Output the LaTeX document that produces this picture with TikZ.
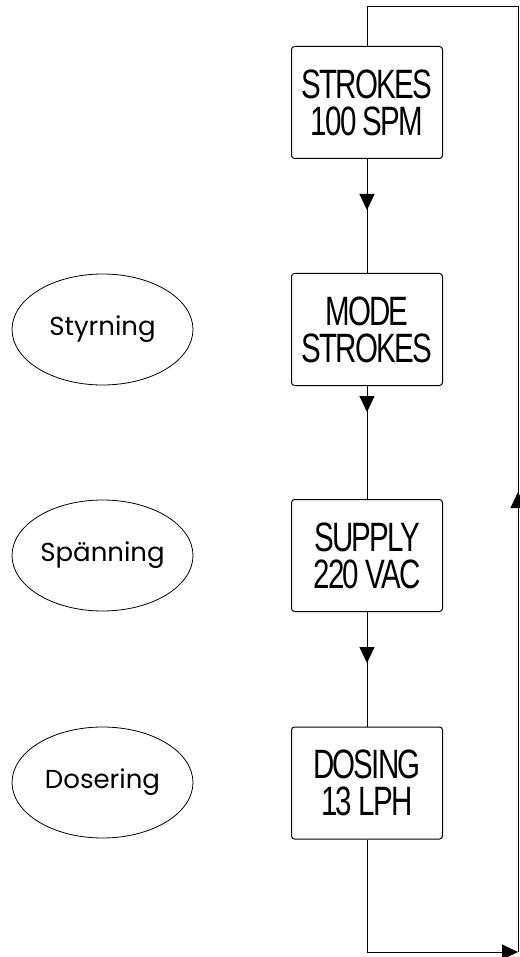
\documentclass[tikz,border=0pt]{standalone}
\usepackage{fontspec}
\usepackage{graphicx}
\usetikzlibrary{shapes.geometric,arrows.meta,decorations.markings}
\newfontfamily\boxfont[LetterSpace=-6]{Liberation Sans}
\newfontfamily\ellfont{Poppins}
\newcommand{\sq}[1]{\scalebox{0.72}[1]{#1}}
\tikzset{
  stepbox/.style={draw, line width=1pt, rounded corners=3pt, minimum width=151pt, minimum height=112pt, inner sep=0pt, align=center, font=\boxfont\fontsize{41}{37}\selectfont},
  oval/.style={draw, ellipse, line width=0.8pt, minimum width=181pt, minimum height=111pt, inner sep=0pt, font=\ellfont\fontsize{26}{30}\selectfont},
  conn/.style={line width=1pt},
  tri/.tip={Triangle[length=16pt,width=15pt]},
  midarrow/.style={postaction={decorate}, decoration={markings, mark=at position #1 with {\arrow{tri}}}}
}
\begin{document}
\begin{tikzpicture}[x=1pt,y=-1pt]
\useasboundingbox (0,0) rectangle (519,957);
\node[stepbox] (b1) at (367,102.5) {\sq{STROKES}\\\sq{100 SPM}};
\node[stepbox] (b2) at (367,329.5) {\sq{MODE}\\\sq{STROKES}};
\node[stepbox] (b3) at (367,555.5) {\sq{SUPPLY}\\\sq{220 VAC}};
\node[stepbox] (b4) at (367,783) {\sq{DOSING}\\\sq{13 LPH}};
\node[oval] (e1) at (102.5,329.5) {Styrning};
\node[oval] (e2) at (102.5,555.5) {Spänning};
\node[oval] (e3) at (102.5,782.5) {Dosering};
\coordinate (bl) at (367,952);
\coordinate (br) at (518,952);
\coordinate (tr) at (518,7);
\coordinate (tl) at (367,7);
\draw[conn, midarrow=51pt] (b1.south) -- (b2.north);
\draw[conn, midarrow=26pt] (b2.south) -- (b3.north);
\draw[conn, midarrow=51pt] (b3.south) -- (b4.north);
\draw[conn, -{tri}] (b4.south) -- (bl) -- (br);
\draw[conn, midarrow=460pt] (br) -- (tr) -- (tl) -- (b1.north);
\end{tikzpicture}
\end{document}
